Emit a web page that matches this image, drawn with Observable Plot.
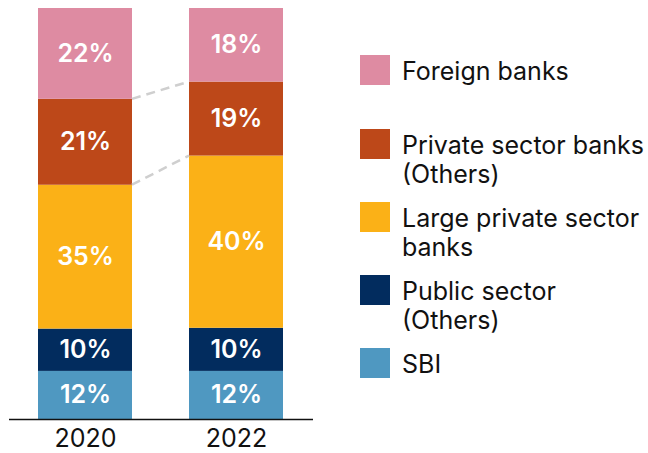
<!DOCTYPE html>
<html><head><meta charset="utf-8">
<script src="https://cdn.jsdelivr.net/npm/d3@7"></script>
<script src="https://cdn.jsdelivr.net/npm/@observablehq/plot@0.6"></script>
<style>
body{margin:0;background:#fff;font-family:Inter,"DejaVu Sans",sans-serif;}
#wrap{position:relative;width:648px;height:453px;overflow:hidden;}
#chart{position:absolute;left:0;top:0;}
.item{position:absolute;left:360px;}
.sw{position:absolute;left:0;top:0;width:30px;height:30px;}
.lab{position:absolute;left:42px;top:2px;font-size:25px;line-height:29px;color:#111;white-space:nowrap;}
</style></head><body>
<div id="wrap"><div id="chart"></div><div id="legend"></div></div>
<script>
const years = ["2020", "2022"];
const categories = ["SBI", "Public sector (Others)", "Large private sector banks", "Private sector banks (Others)", "Foreign banks"];
const legendLines = [["SBI"], ["Public sector", "(Others)"], ["Large private sector", "banks"], ["Private sector banks", "(Others)"], ["Foreign banks"]];
const colors = ["#4F98C1", "#022C5E", "#FBB117", "#BD4819", "#DE8BA2"];
const values2020 = [11.7, 10.3, 35.0, 20.9, 22.1];
const values2022 = [11.7, 10.5, 41.9, 18.0, 17.9];
const labels2020 = ["12%", "10%", "35%", "21%", "22%"];
const labels2022 = ["12%", "10%", "40%", "19%", "18%"];
const legendTops = [348, 275, 202, 129, 55];

const rows = [];
[[years[0], values2020, labels2020], [years[1], values2022, labels2022]].forEach(([yr, vals, labs]) => {
  categories.forEach((c, i) => rows.push({year: yr, category: c, value: vals[i], label: labs[i]}));
});

const connectors = (index, scales) => {
  const x = scales.x, y = scales.y;
  const bw = x.bandwidth();
  const g = d3.create("svg:g");
  for (const n of [3, 4]) {
    g.append("line")
      .attr("x1", x(years[0]) + bw).attr("y1", y(d3.sum(values2020.slice(0, n))))
      .attr("x2", x(years[1])).attr("y2", y(d3.sum(values2022.slice(0, n))))
      .attr("stroke", "#cfcfcf").attr("stroke-width", 2.5).attr("stroke-dasharray", "9,6");
  }
  return g.node();
};

const chart = Plot.plot({
  width: 330, height: 453,
  marginLeft: 9, marginRight: 17, marginTop: 8, marginBottom: 34,
  style: {fontSize: "25px", fontFamily: "Inter, 'DejaVu Sans', sans-serif", color: "#111", background: "transparent", overflow: "visible"},
  x: {domain: years, paddingInner: 0.377, paddingOuter: 0.195, label: null, tickSize: 0, tickPadding: 10},
  y: {domain: [0, 100], axis: null},
  color: {domain: categories, range: colors},
  marks: [
    Plot.barY(rows, {x: "year", y: "value", fill: "category"}),
    Plot.text(rows, Plot.stackY({x: "year", y: "value", z: "category", text: "label", fill: "white", fontWeight: 600, fontSize: 25})),
    connectors,
    Plot.ruleY([0], {stroke: "#111", strokeWidth: 1.3})
  ]
});
document.getElementById("chart").appendChild(chart);

const legend = document.getElementById("legend");
categories.forEach((c, i) => {
  const item = document.createElement("div");
  item.className = "item";
  item.style.top = legendTops[i] + "px";
  const sw = document.createElement("div");
  sw.className = "sw";
  sw.style.background = colors[i];
  const lab = document.createElement("div");
  lab.className = "lab";
  lab.innerHTML = legendLines[i].join("<br>");
  item.appendChild(sw);
  item.appendChild(lab);
  legend.appendChild(item);
});
</script>
</body></html>
